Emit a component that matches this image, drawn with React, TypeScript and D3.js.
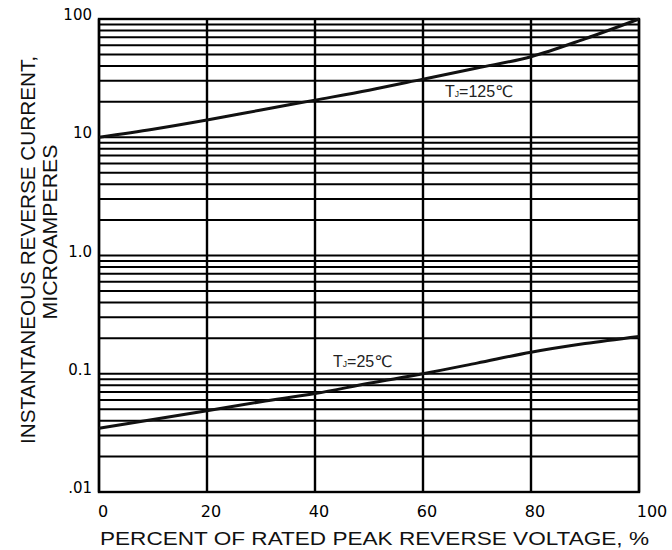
import React from "react";
import * as d3 from "d3";

const voltagePct = [0, 10, 20, 30, 40, 50, 60, 70, 80, 90, 100];
const current125 = [10, 11.7, 14, 17, 20.6, 25, 31, 38.5, 48, 68, 100];
const current25 = [0.0346, 0.041, 0.0487, 0.058, 0.068, 0.083, 0.1, 0.123, 0.152, 0.18, 0.207];
const xTicks = [0, 20, 40, 60, 80, 100];
const yMajor = [0.01, 0.1, 1, 10, 100];
const yTickLabels = [".01", "0.1", "1.0", "10", "100"];

const W = 672;
const H = 550;
const L = 99, R = 639, T = 19, B = 492;

export default function App() {
  const x = d3.scaleLinear().domain([0, 100]).range([L, R]);
  const y = d3.scaleLog().domain([0.01, 100]).range([B, T]);

  const minor: number[] = [];
  for (let i = 0; i < yMajor.length - 1; i++) {
    for (let k = 1; k <= 9; k++) minor.push(yMajor[i] * k);
  }
  minor.push(100);

  const line = d3
    .line<number>()
    .x((_, i) => x(voltagePct[i]))
    .y((d) => y(d))
    .curve(d3.curveMonotoneX);

  const sans = "'Liberation Sans', Arial, sans-serif";
  const tickFont = "'DejaVu Sans', sans-serif";
  const degFont = "'DejaVu Sans', 'Noto Sans CJK SC', sans-serif";

  return (
    <svg
      width={W}
      height={H}
      style={{ position: "absolute", left: 0, top: 0, background: "#fff" }}
    >
      <rect x={0} y={0} width={W} height={H} fill="#fff" />
      {minor.map((v, i) => (
        <line key={"h" + i} x1={L} x2={R} y1={y(v)} y2={y(v)} stroke="#000" strokeWidth={2} />
      ))}
      {xTicks.map((v) => (
        <line key={"v" + v} x1={x(v)} x2={x(v)} y1={T} y2={B} stroke="#000" strokeWidth={2.4} />
      ))}
      <rect x={L} y={T} width={R - L} height={B - T} fill="none" stroke="#000" strokeWidth={2.4} />

      <path d={line(current125) || ""} fill="none" stroke="#111" strokeWidth={3} />
      <path d={line(current25) || ""} fill="none" stroke="#111" strokeWidth={3} />

      <text x={445} y={97} fontFamily={sans} fontSize={16} fill="#222">
        T<tspan fontSize={8.5}>J</tspan>
        <tspan>=125</tspan>
        <tspan fontFamily={degFont}>℃</tspan>
      </text>
      <text x={333} y={367} fontFamily={sans} fontSize={16} fill="#222">
        T<tspan fontSize={8.5}>J</tspan>
        <tspan>=25</tspan>
        <tspan fontFamily={degFont}>℃</tspan>
      </text>

      {yMajor.map((v, i) => (
        <text
          key={"yl" + v}
          x={92}
          y={y(v) + 1}
          textAnchor="end"
          fontFamily={tickFont}
          fontSize={15}
          fill="#000"
        >
          {yTickLabels[i]}
        </text>
      ))}
      {xTicks.map((v) => (
        <text
          key={"xl" + v}
          x={x(v) + 4 + (v === 100 ? 9 : 0)}
          y={517}
          textAnchor="middle"
          fontFamily={tickFont}
          fontSize={16}
          fill="#000"
        >
          {v}
        </text>
      ))}

      <text
        x={100}
        y={545}
        fontFamily={sans}
        fontSize={18.5}
        textLength={549}
        lengthAdjust="spacingAndGlyphs"
        fill="#111"
      >
        PERCENT OF RATED PEAK REVERSE VOLTAGE,  %
      </text>
      <text
        transform="translate(35,250) rotate(-90)"
        textAnchor="middle"
        fontFamily={sans}
        fontSize={20}
        textLength={388}
        lengthAdjust="spacingAndGlyphs"
        fill="#111"
      >
        INSTANTANEOUS REVERSE CURRENT,
      </text>
      <text
        transform="translate(57,232) rotate(-90)"
        textAnchor="middle"
        fontFamily={sans}
        fontSize={20}
        textLength={175}
        lengthAdjust="spacingAndGlyphs"
        fill="#111"
      >
        MICROAMPERES
      </text>
    </svg>
  );
}
